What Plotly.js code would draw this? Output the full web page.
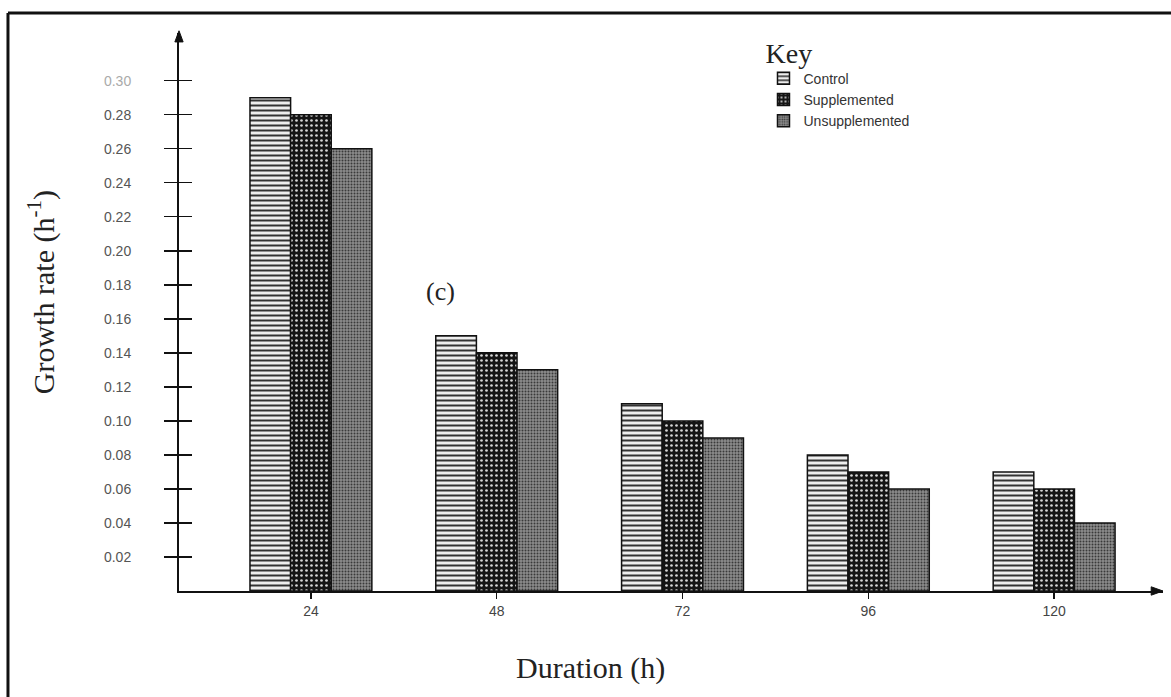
<!DOCTYPE html>
<html>
<head>
<meta charset="utf-8">
<script src="https://cdn.plot.ly/plotly-3.0.1.min.js"></script>
<style>html,body{margin:0;padding:0;background:#fff;}#chart{width:1171px;height:697px;}</style>
</head>
<body>
<div id="chart"></div>
<script>
const durations = ["24", "48", "72", "96", "120"];
const control = [0.29, 0.15, 0.11, 0.08, 0.07];
const supplemented = [0.28, 0.14, 0.10, 0.07, 0.06];
const unsupplemented = [0.26, 0.13, 0.09, 0.06, 0.04];
const yTickVals = [0.02,0.04,0.06,0.08,0.10,0.12,0.14,0.16,0.18,0.20,0.22,0.24,0.26,0.28,0.30];
const yTickText = ["0.02","0.04","0.06","0.08","0.10","0.12","0.14","0.16","0.18","0.20","0.22","0.24","0.26","0.28","<span style=\"color:#aaa\">0.30</span>"];

const outline = {color: '#111', width: 1.5};
const traces = [
  {type:'bar', name:'Control', x:durations, y:control,
   marker:{color:'#eeeeee', line:outline,
     pattern:{shape:'-', bgcolor:'#eeeeee', fgcolor:'#333', size:5, solidity:0.4}}},
  {type:'bar', name:'Supplemented', x:durations, y:supplemented,
   marker:{color:'#151515', line:outline,
     pattern:{shape:'.', bgcolor:'#151515', fgcolor:'#d8d8d8', size:5, solidity:0.22}}},
  {type:'bar', name:'Unsupplemented', x:durations, y:unsupplemented,
   marker:{color:'#7a7a7a', line:outline,
     pattern:{shape:'.', bgcolor:'#8c8c8c', fgcolor:'#3a3a3a', size:3, solidity:0.35}}},
  {type:'scatter', x:[], y:[], yaxis:'y2', showlegend:false, hoverinfo:'skip'}
];

const layout = {
  width:1171, height:697,
  margin:{l:179, r:8, t:33, b:106},
  paper_bgcolor:'#fff', plot_bgcolor:'#fff',
  barmode:'group', bargap:0.344, bargroupgap:0,
  font:{family:'Arial, Liberation Sans, sans-serif', color:'#444', size:14},
  xaxis:{type:'category', range:[-0.71, 4.586], showgrid:false, zeroline:false,
    showline:true, linecolor:'#111', linewidth:2,
    ticks:'outside', ticklen:6, tickwidth:1.5, tickcolor:'#111',
    tickfont:{size:14, color:'#444'}},
  yaxis:{range:[0, 0.328], showgrid:false, zeroline:false,
    showline:true, linecolor:'#111', linewidth:2,
    tickvals:yTickVals, ticktext:yTickText,
    ticks:'outside', ticklen:13, tickwidth:1.5, tickcolor:'#111',
    ticklabelstandoff:30, tickfont:{size:14, color:'#555'}},
  yaxis2:{overlaying:'y', range:[0, 0.328], showgrid:false, zeroline:false,
    showline:false, tickvals:yTickVals, showticklabels:false,
    ticks:'inside', ticklen:13, tickwidth:1.5, tickcolor:'#111'},
  legend:{x:0.594, y:1.012, xanchor:'left', yanchor:'top',
    bgcolor:'rgba(0,0,0,0)', font:{size:14, color:'#333'},
    title:{text:'Key', side:'top', font:{family:'Liberation Serif, Times New Roman, serif', size:28, color:'#222'}},
    itemwidth:30, tracegroupgap:0},
  annotations:[
    {xref:'paper', yref:'paper', x:0.418, y:-0.138, xanchor:'center', yanchor:'middle', showarrow:false,
     text:'Duration (h)', font:{family:'Liberation Serif, Times New Roman, serif', size:30, color:'#222'}},
    {xref:'paper', yref:'paper', x:-0.139, y:0.536, xanchor:'center', yanchor:'middle', showarrow:false, textangle:-90,
     text:'Growth rate (h<sup>-1</sup>)', font:{family:'Liberation Serif, Times New Roman, serif', size:30, color:'#222'}},
    {xref:'paper', yref:'paper', x:0.266, y:0.536, xanchor:'center', yanchor:'middle', showarrow:false,
     text:'(c)', font:{family:'Liberation Serif, Times New Roman, serif', size:26, color:'#222'}}
  ],
  shapes:[
    {type:'line', xref:'paper', yref:'paper', x0:-0.1738, x1:-0.1738, y0:1.0358, y1:-0.2, line:{color:'#111', width:3}},
    {type:'line', xref:'paper', yref:'paper', x0:-0.1738, x1:1.01, y0:1.0358, y1:1.0358, line:{color:'#111', width:3}},
    {type:'path', xref:'paper', yref:'paper', path:'M 0,1.004 L -0.0042,0.984 L 0.0042,0.984 Z', fillcolor:'#111', line:{color:'#111', width:1}},
    {type:'path', xref:'paper', yref:'paper', path:'M 1.0,0 L 0.988,0.0075 L 0.988,-0.0075 Z', fillcolor:'#111', line:{color:'#111', width:1}}
  ]
};

Plotly.newPlot('chart', traces, layout, {displayModeBar:false, staticPlot:true});
</script>
</body>
</html>
